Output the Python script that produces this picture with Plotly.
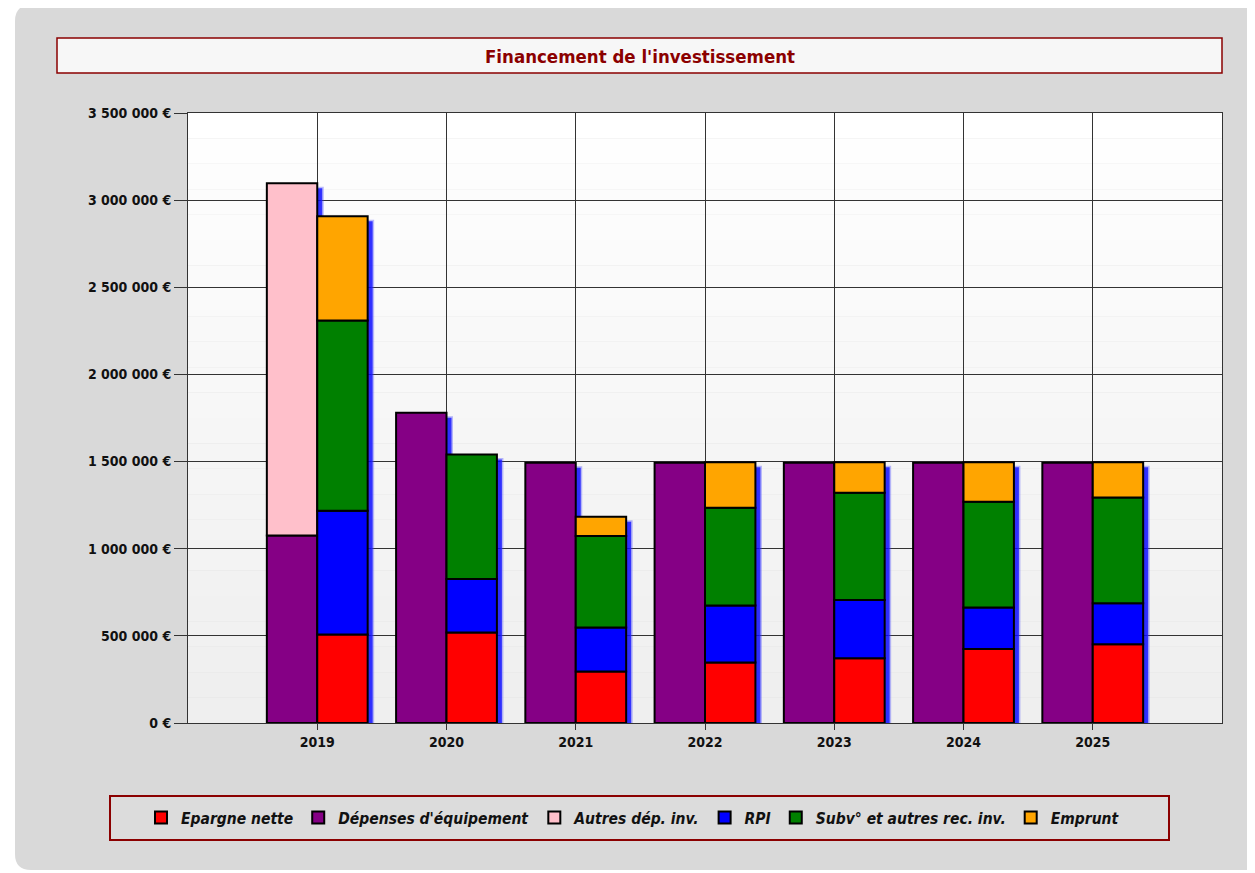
import plotly.graph_objects as go

# ---------------- data ----------------
years = [2019, 2020, 2021, 2022, 2023, 2024, 2025]
epargne_nette = [508000, 519000, 296000, 347000, 372000, 424000, 452000]
depenses_equipement = [1076000, 1780000, 1493000, 1493000, 1493000, 1493000, 1493000]
autres_dep_inv = [2021000, None, None, None, None, None, None]
rpi = [710000, 307000, 252000, 327000, 334000, 238000, 235000]
subventions = [1091000, 714000, 525000, 561000, 615000, 607000, 607000]
emprunt = [598000, None, 110000, 261000, 175000, 227000, 202000]

y_tick_values = [0, 500000, 1000000, 1500000, 2000000, 2500000, 3000000, 3500000]
y_tick_labels = [f"{v:,}".replace(",", " ") + " €" for v in y_tick_values]
title_text = "Financement de l'investissement"

# ---------------- layout geometry (visible page pixels) ----------------
W, H = 1255, 873
OFF = 8                      # default page body margin
PL, PR, PT, PB = 188, 1222, 113, 723
PW, PH = PR - PL, PB - PT
X_RANGE = [2018, 2026]
Y_RANGE = [0, 3500000]


def fx(px):
    return (px - PL) / PW


def fy(py):
    return (PB - py) / PH


BW = 0.39
LEFT_OFF = -0.39
RIGHT_OFF = 0.0
DX = 5 / (PW / (X_RANGE[1] - X_RANGE[0]))
DY = 5 * (Y_RANGE[1] - Y_RANGE[0]) / PH

TICK_FONT = "DejaVu Sans Condensed, DejaVu Sans, sans-serif"

left_group = [
    ("Dépenses d'équipement", depenses_equipement, "#850085", 2),
    ("Autres dép. inv.", autres_dep_inv, "#ffc0cb", 3),
]
right_group = [
    ("Epargne nette", epargne_nette, "#ff0000", 1),
    ("RPI", rpi, "#0000ff", 4),
    ("Subv° et autres rec. inv.", subventions, "#008000", 5),
    ("Emprunt", emprunt, "#ffa500", 6),
]

fig = go.Figure()


def totals(group):
    return [sum((s[1][i] or 0) for s in group) for i in range(len(years))]


# drop shadows (blue) behind each stack
for group, off in ((left_group, LEFT_OFF), (right_group, RIGHT_OFF)):
    fig.add_trace(go.Bar(
        x=years, y=totals(group), base=[-DY] * len(years),
        offset=off + DX, width=BW,
        marker=dict(color="rgba(10,10,255,0.85)", line=dict(color="rgba(60,60,255,0.35)", width=3)),
        showlegend=False, hoverinfo="skip",
    ))

# stacked bars
for group, off in ((left_group, LEFT_OFF), (right_group, RIGHT_OFF)):
    base = [0] * len(years)
    for name, vals, color, rank in group:
        fig.add_trace(go.Bar(
            name=name, x=years, y=vals, base=list(base),
            offset=off, width=BW,
            marker=dict(color=color, line=dict(color="#000000", width=2)),
            legendrank=rank,
        ))
        base = [b + (v or 0) for b, v in zip(base, vals)]

shapes = []
# outer rounded grey panel
x0, x1 = fx(15), fx(1280)
y0, y1 = fy(5), fy(870)
rx, ry = 16 / PW, 16 / PH
panel_path = (
    f"M {x0 + rx},{y0} L {x1},{y0} L {x1},{y1} L {x0 + rx},{y1} "
    f"Q {x0},{y1} {x0},{y1 + ry} L {x0},{y0 - ry} Q {x0},{y0} {x0 + rx},{y0} Z"
)
shapes.append(dict(type="path", xref="paper", yref="paper", path=panel_path,
                   fillcolor="#d9d9d9", line=dict(width=0), layer="below"))
# plot area soft gradient
n = 24
for i in range(n):
    g = int(255 - 16 * i / (n - 1))
    shapes.append(dict(type="rect", xref="paper", yref="paper",
                       x0=0, x1=1, y0=1 - (i + 1) / n, y1=1 - i / n,
                       fillcolor=f"rgb({g},{g},{g})", line=dict(width=0), layer="below"))
# title box
shapes.append(dict(type="rect", xref="paper", yref="paper",
                   x0=fx(57), x1=fx(1222), y0=fy(73), y1=fy(38),
                   fillcolor="#f7f7f7", line=dict(color="#8b0000", width=1.5), layer="below"))
# legend box
shapes.append(dict(type="rect", xref="paper", yref="paper",
                   x0=fx(110), x1=fx(1169), y0=fy(840), y1=fy(796),
                   fillcolor="#dcdcdc", line=dict(color="#8b0000", width=2), layer="below"))

fig.update_layout(
    width=W, height=H,
    margin=dict(l=PL - OFF, r=W - (PR - OFF), t=PT - OFF, b=H - (PB - OFF), pad=0),
    paper_bgcolor="#ffffff",
    plot_bgcolor="rgba(0,0,0,0)",
    barmode="overlay",
    shapes=shapes,
    annotations=[dict(
        text=title_text, xref="paper", yref="paper",
        x=fx(640), y=fy(56), xanchor="center", yanchor="middle", showarrow=False,
        font=dict(family=TICK_FONT, size=18.5, color="#8b0000", weight="bold"),
    )],
    legend=dict(
        orientation="h", x=fx(633), xanchor="center", y=fy(818), yanchor="middle",
        bgcolor="rgba(0,0,0,0)", borderwidth=0, traceorder="normal",
        font=dict(family=TICK_FONT, size=15.5, color="#111111", weight="bold", style="italic"),
    ),
    xaxis=dict(
        range=X_RANGE, tickvals=years, ticktext=[str(y) for y in years],
        showgrid=True, gridcolor="#333333", gridwidth=1,
        showline=True, linecolor="#333333", linewidth=1, mirror=True,
        ticks="outside", ticklen=6, tickcolor="#333333",
        tickfont=dict(family=TICK_FONT, size=14, color="#111111", weight="bold"),
        zeroline=False, fixedrange=True,
    ),
    yaxis=dict(
        range=Y_RANGE, tickvals=y_tick_values, ticktext=y_tick_labels,
        showgrid=True, gridcolor="#333333", gridwidth=1,
        showline=True, linecolor="#333333", linewidth=1, mirror=True,
        ticks="outside", ticklen=13, tickcolor="#333333",
        tickfont=dict(family=TICK_FONT, size=14, color="#111111", weight="bold"),
        zeroline=False, fixedrange=True,
    ),
)

fig.write_html("out.html")
